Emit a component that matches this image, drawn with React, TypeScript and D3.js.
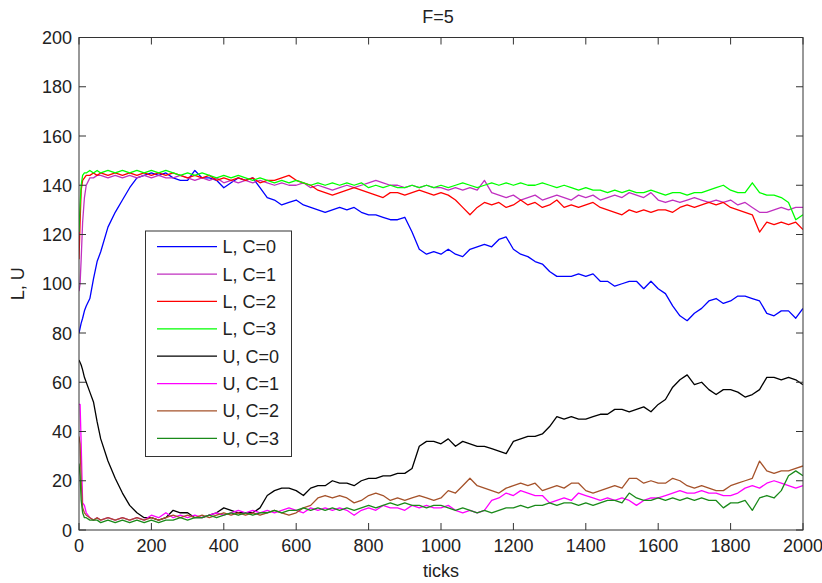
import React from "react";
import * as d3 from "d3";

// sample positions (ticks)
const earlyTicks = [0, 3, 6, 10, 15, 20, 30, 40, 50];
const sampleTicks: number[] = earlyTicks.concat(d3.range(60, 2001, 20));

const xTickValues = [0, 200, 400, 600, 800, 1000, 1200, 1400, 1600, 1800, 2000];
const yTickValues = [0, 20, 40, 60, 80, 100, 120, 140, 160, 180, 200];

const seriesNames = ["L, C=0", "L, C=1", "L, C=2", "L, C=3", "U, C=0", "U, C=1", "U, C=2", "U, C=3"];
const seriesColors = ["#0000ff", "#c030c0", "#ff0000", "#00ff00", "#000000", "#ff00ff", "#a5522a", "#1a8a1a"];

const L0 = [
  80, 82, 84, 86, 89, 91, 94, 102, 109,
  113, 123, 129, 134, 139, 143, 144, 145, 144, 145,
  143, 142, 142, 146, 143, 143, 142, 139, 141, 143,
  142, 143, 139, 135, 134, 132, 133, 134, 132, 131,
  130, 129, 130, 131, 130, 131, 129, 128, 128, 127,
  126, 126, 127, 121, 114, 112, 113, 112, 114, 112,
  111, 114, 115, 116, 115, 118, 119, 114, 112, 111,
  109, 108, 105, 103, 103, 103, 104, 103, 104, 101,
  101, 99, 100, 101, 101, 98, 101, 98, 96, 91,
  87, 85, 88, 90, 93, 94, 92, 93, 95, 95,
  94, 93, 88, 87, 89, 89, 86, 90,
];
const L1 = [
  97, 100, 110, 125, 135, 140, 143, 143, 144,
  144, 143, 144, 143, 144, 143, 144, 143, 144, 143,
  143, 144, 143, 142, 143, 142, 143, 141, 142, 141,
  142, 141, 142, 141, 140, 141, 140, 140, 141, 139,
  140, 139, 138, 139, 140, 139, 140, 141, 142, 141,
  140, 140, 139, 140, 139, 140, 139, 139, 138, 139,
  138, 139, 138, 142, 137, 136, 135, 136, 134, 135,
  136, 134, 135, 136, 135, 134, 136, 135, 136, 134,
  135, 136, 135, 137, 136, 135, 137, 134, 133, 134,
  133, 134, 135, 134, 133, 134, 133, 134, 132, 133,
  131, 129, 129, 130, 131, 130, 131, 131,
];
const L2 = [
  110, 125, 138, 142, 143, 144, 144, 145, 144,
  145, 144, 145, 144, 145, 144, 145, 144, 145, 144,
  145, 144, 143, 144, 143, 144, 142, 143, 142, 143,
  142, 143, 141, 142, 142, 143, 144, 142, 141, 140,
  138, 137, 136, 137, 138, 139, 138, 137, 136, 135,
  137, 137, 136, 137, 138, 137, 136, 137, 136, 134,
  131, 128, 131, 133, 132, 133, 131, 132, 134, 132,
  133, 131, 132, 134, 131, 132, 131, 132, 133, 131,
  130, 129, 128, 130, 129, 130, 129, 130, 130, 129,
  131, 132, 131, 132, 133, 132, 133, 131, 130, 129,
  128, 121, 125, 124, 125, 124, 125, 122,
];
const L3 = [
  121, 132, 140, 144, 145, 145, 146, 145, 146,
  145, 146, 145, 146, 145, 146, 145, 146, 145, 146,
  145, 144, 145, 144, 145, 144, 143, 144, 143, 144,
  143, 142, 143, 142, 141, 142, 141, 142, 141, 140,
  141, 140, 141, 140, 141, 140, 141, 139, 140, 139,
  140, 139, 139, 140, 139, 140, 139, 140, 139, 140,
  141, 140, 139, 140, 141, 140, 141, 140, 141, 140,
  140, 141, 140, 139, 140, 139, 138, 139, 138, 138,
  137, 138, 137, 138, 137, 137, 138, 137, 136, 137,
  137, 136, 137, 137, 138, 139, 140, 138, 137, 137,
  141, 137, 136, 136, 135, 133, 126, 128,
];
const U0 = [
  69, 68, 67, 65, 62, 60, 56, 52, 44,
  37, 28, 21, 15, 10, 7, 5, 5, 4, 5,
  8, 7, 7, 5, 5, 6, 7, 9, 8, 7,
  7, 7, 9, 14, 16, 17, 17, 16, 14, 17,
  18, 18, 20, 19, 19, 18, 20, 21, 21, 22,
  22, 23, 23, 25, 34, 36, 36, 35, 37, 34,
  36, 35, 34, 34, 33, 32, 31, 36, 37, 38,
  38, 39, 42, 46, 45, 46, 45, 45, 46, 47,
  47, 49, 49, 48, 49, 50, 48, 51, 53, 58,
  61, 63, 59, 60, 57, 55, 57, 57, 56, 54,
  55, 57, 62, 62, 61, 62, 61, 59,
];
const U1 = [
  51, 51, 35, 11, 10, 7, 5, 4, 5,
  4, 5, 4, 5, 4, 5, 4, 6, 5, 7,
  5, 6, 5, 6, 5, 6, 7, 6, 7, 8,
  7, 8, 7, 8, 7, 8, 9, 8, 7, 9,
  8, 9, 8, 9, 8, 6, 8, 9, 8, 10,
  9, 9, 8, 10, 9, 10, 9, 9, 10, 8,
  7, 8, 7, 8, 12, 13, 15, 14, 16, 15,
  14, 14, 11, 12, 13, 12, 15, 14, 13, 12,
  13, 12, 13, 12, 10, 12, 13, 13, 14, 15,
  16, 15, 15, 16, 15, 15, 14, 14, 15, 17,
  18, 17, 19, 20, 19, 18, 17, 18,
];
const U2 = [
  38, 35, 20, 9, 7, 6, 5, 4, 5,
  4, 5, 4, 5, 4, 5, 4, 5, 4, 5,
  6, 5, 6, 5, 6, 5, 6, 7, 6, 7,
  6, 7, 6, 7, 8, 7, 6, 7, 9, 10,
  13, 14, 13, 14, 13, 11, 12, 14, 15, 14,
  12, 13, 12, 13, 14, 13, 12, 13, 16, 15,
  18, 21, 18, 17, 16, 15, 17, 18, 19, 18,
  19, 16, 17, 18, 17, 19, 19, 16, 15, 16,
  17, 18, 17, 21, 21, 19, 20, 19, 19, 21,
  20, 18, 17, 18, 17, 16, 16, 18, 19, 20,
  21, 28, 24, 23, 24, 24, 25, 26,
];
const U3 = [
  27, 22, 12, 7, 5, 5, 4, 4, 4,
  3, 4, 3, 4, 3, 4, 3, 4, 3, 4,
  4, 5, 4, 5, 5, 6, 5, 6, 7, 6,
  7, 6, 7, 7, 8, 7, 8, 8, 9, 8,
  9, 8, 9, 8, 9, 8, 9, 10, 9, 10,
  11, 10, 11, 10, 10, 9, 10, 10, 9, 8,
  9, 8, 7, 8, 7, 8, 9, 9, 10, 9,
  10, 10, 11, 10, 11, 11, 10, 11, 10, 11,
  12, 12, 11, 15, 13, 12, 12, 13, 12, 13,
  12, 13, 12, 13, 12, 12, 9, 11, 11, 12,
  8, 13, 14, 13, 16, 22, 24, 22,
];

const seriesValues = [L0, L1, L2, L3, U0, U1, U2, U3];

const W = 822;
const H = 583;
const left = 79;
const right = 803;
const top = 37.5;
const bottom = 530;
const FONT = "'Liberation Sans', Arial, Helvetica, sans-serif";
const TEXT = "#222";
const TICK = 7;

export default function App() {
  const x = d3.scaleLinear().domain([0, 2000]).range([left, right]);
  const y = d3.scaleLinear().domain([0, 200]).range([bottom, top]);
  const line = d3
    .line<[number, number]>()
    .x((d) => x(d[0]))
    .y((d) => y(d[1]));

  const legendX = 145.5;
  const legendY = 231;
  const legendW = 146;
  const legendH = 225.5;
  const rowY0 = 246.7;
  const rowStep = 27.37;

  return (
    <svg
      width={W}
      height={H}
      style={{ position: "absolute", left: 0, top: 0, background: "#fff" }}
      fontFamily={FONT}
    >
      <rect x={0} y={0} width={W} height={H} fill="#fff" />
      <defs>
        <clipPath id="plotclip">
          <rect x={left} y={top} width={right - left} height={bottom - top} />
        </clipPath>
      </defs>
      <g clipPath="url(#plotclip)">
        {seriesValues.map((vals, i) => (
          <path
            key={i}
            d={line(sampleTicks.map((t, k) => [t, vals[k]]) as [number, number][]) || ""}
            fill="none"
            stroke={seriesColors[i]}
            strokeWidth={1.3}
            strokeLinejoin="round"
          />
        ))}
      </g>
      {/* axes box */}
      <rect x={left} y={top} width={right - left} height={bottom - top} fill="none" stroke="#333" strokeWidth={1} />
      {xTickValues.map((v) => (
        <g key={"x" + v}>
          <line x1={x(v)} x2={x(v)} y1={bottom} y2={bottom - TICK} stroke="#333" />
          <line x1={x(v)} x2={x(v)} y1={top} y2={top + TICK} stroke="#333" />
          <text x={x(v)} y={552} textAnchor="middle" fontSize={18} fill={TEXT}>
            {v}
          </text>
        </g>
      ))}
      {yTickValues.map((v) => (
        <g key={"y" + v}>
          <line x1={left} x2={left + TICK} y1={y(v)} y2={y(v)} stroke="#333" />
          <line x1={right} x2={right - TICK} y1={y(v)} y2={y(v)} stroke="#333" />
          <text x={72} y={y(v) + 6.5} textAnchor="end" fontSize={18} fill={TEXT}>
            {v}
          </text>
        </g>
      ))}
      <text x={438} y={23} textAnchor="middle" fontSize={18} fill={TEXT}>
        F=5
      </text>
      <text x={441} y={577} textAnchor="middle" fontSize={18} fill={TEXT}>
        ticks
      </text>
      <text
        transform={`translate(24, ${(top + bottom) / 2}) rotate(-90)`}
        textAnchor="middle"
        fontSize={18}
        fill={TEXT}
      >
        L, U
      </text>
      {/* legend */}
      <rect x={legendX} y={legendY} width={legendW} height={legendH} fill="#fff" stroke="#333" strokeWidth={1} />
      {seriesNames.map((name, i) => {
        const ry = rowY0 + i * rowStep;
        return (
          <g key={name}>
            <line x1={157} x2={217} y1={ry} y2={ry} stroke={seriesColors[i]} strokeWidth={1.3} />
            <text x={222.5} y={ry + 6.5} fontSize={18} fill={TEXT}>
              {name}
            </text>
          </g>
        );
      })}
    </svg>
  );
}
